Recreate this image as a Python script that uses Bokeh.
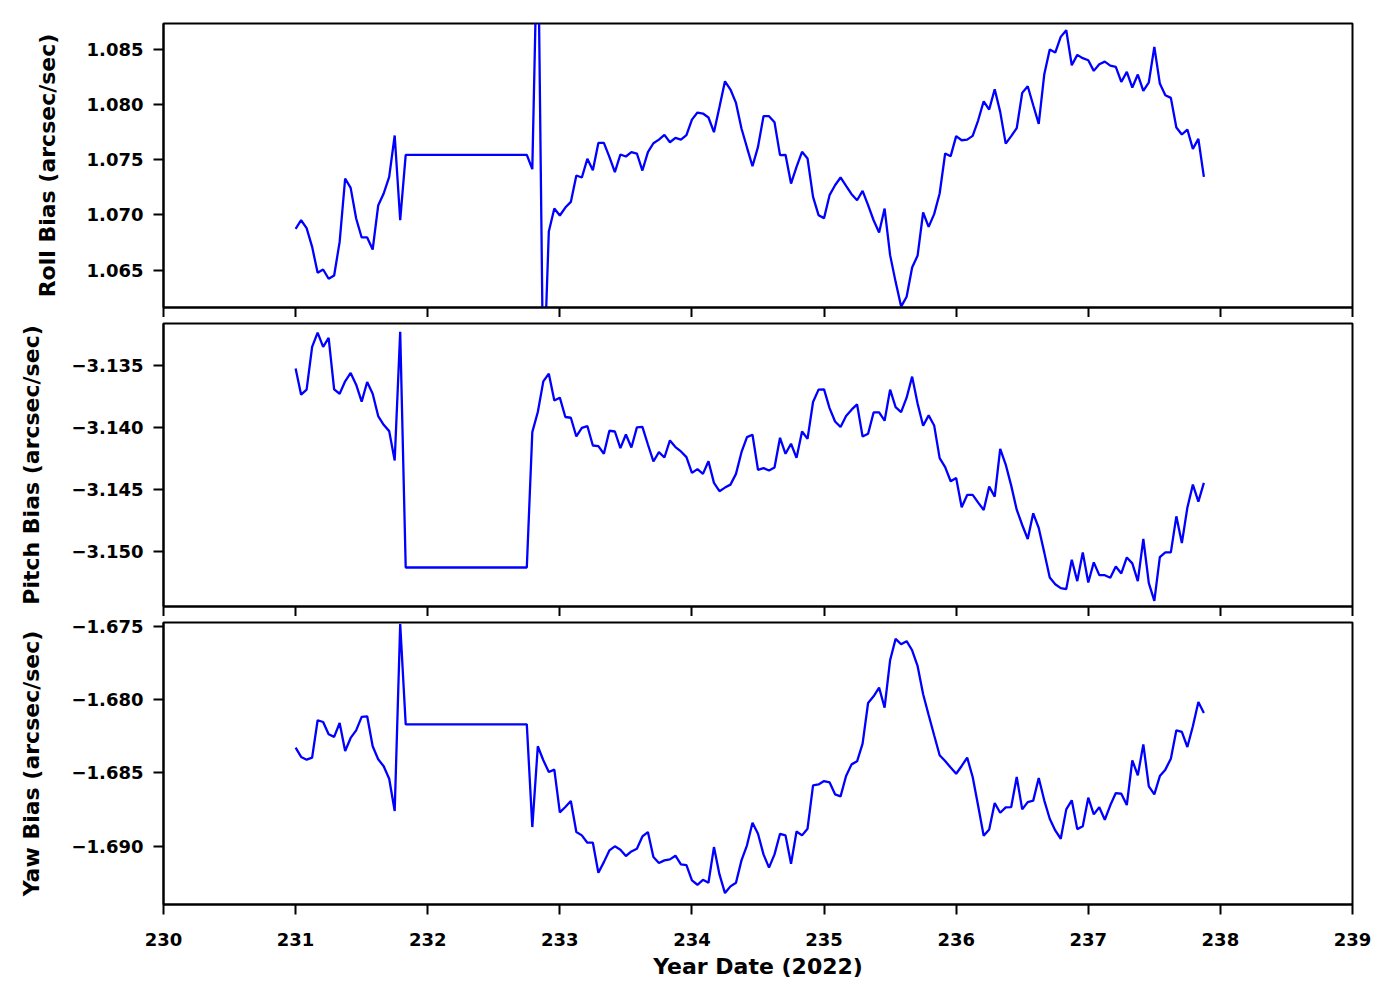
import numpy as np
from bokeh.plotting import figure
from bokeh.models import Range1d, FixedTicker, CustomJSTickFormatter
from bokeh.layouts import column
from bokeh.embed import file_html
from bokeh.resources import INLINE

# hourly samples (hours after day 231.0); data gap between hour 20 and hour 42
hours = list(range(0, 21)) + list(range(42, 166))

roll = [
    1.06874, 1.06952, 1.06880, 1.06711, 1.06476, 1.06506, 1.06422, 1.06452, 1.06756, 1.07330,
    1.07245, 1.06968, 1.06796, 1.06796, 1.06687, 1.07085, 1.07194, 1.07345, 1.07719, 1.06952,
    1.07544,
    1.07544, 1.07414, 1.0976, 1.0539, 1.06850, 1.07058, 1.06995, 1.07067,
    1.07118, 1.07357, 1.07339, 1.07508, 1.07405, 1.07652, 1.07652, 1.07526, 1.07387, 1.07547,
    1.07529, 1.07568, 1.07556, 1.07402, 1.07568, 1.07649, 1.07682, 1.07725, 1.07658, 1.07698,
    1.07682, 1.07722, 1.07863, 1.07927, 1.07918, 1.07882, 1.07749, 1.07978, 1.08210, 1.08135,
    1.08014, 1.07782, 1.07610, 1.07441, 1.07616, 1.07894, 1.07894, 1.07839, 1.07541, 1.07544,
    1.07284, 1.07435, 1.07571, 1.07511, 1.07164, 1.06998, 1.06971, 1.07179, 1.07269, 1.07339,
    1.07263, 1.07188, 1.07133, 1.07218, 1.07088, 1.06952, 1.06841, 1.07058, 1.06636, 1.06394,
    1.06170, 1.06259, 1.06524, 1.06633, 1.07022, 1.06892, 1.07007, 1.07194, 1.07556, 1.07532,
    1.07713, 1.07676, 1.07682, 1.07716, 1.07857, 1.08029, 1.07954, 1.08138, 1.07933, 1.07646,
    1.07713, 1.07785, 1.08105, 1.08165, 1.07993, 1.07824, 1.08271, 1.08497, 1.08470, 1.08612,
    1.08672, 1.08355, 1.08449, 1.08419, 1.08400, 1.08304, 1.08364, 1.08388, 1.08352, 1.08340,
    1.08204, 1.08295, 1.08153, 1.08271, 1.08123, 1.08201, 1.08521, 1.08189, 1.08084, 1.08060,
    1.07791, 1.07728, 1.07773, 1.07598, 1.07689, 1.07345,
]

pitch = [
    -3.13524, -3.13735, -3.13694, -3.13349, -3.13233, -3.13349, -3.13276, -3.13692, -3.13727, -3.13627,
    -3.13559, -3.13654, -3.13791, -3.13632, -3.13727, -3.13907, -3.13978, -3.14029, -3.14266, -3.13227,
    -3.15130,
    -3.15130, -3.14037, -3.13875, -3.13627, -3.13565, -3.13781, -3.13759, -3.13915,
    -3.13921, -3.14072, -3.14002, -3.13988, -3.14145, -3.14150, -3.14212, -3.14026, -3.14032, -3.14166,
    -3.14056, -3.14161, -3.13999, -3.13994, -3.14137, -3.14274, -3.14199, -3.14242, -3.14104, -3.14158,
    -3.14193, -3.14239, -3.14366, -3.14336, -3.14374, -3.14272, -3.14447, -3.14514, -3.14485, -3.14461,
    -3.14374, -3.14199, -3.14077, -3.14058, -3.14342, -3.14328, -3.14347, -3.14323, -3.14083, -3.14212,
    -3.14131, -3.14245, -3.14032, -3.14091, -3.13794, -3.13694, -3.13692, -3.13843, -3.13951, -3.13996,
    -3.13907, -3.13856, -3.13813, -3.14072, -3.14050, -3.13878, -3.13878, -3.13945, -3.13694, -3.13835,
    -3.13875, -3.13759, -3.13589, -3.13808, -3.13986, -3.13902, -3.13983, -3.14247, -3.14320, -3.14434,
    -3.14407, -3.14644, -3.14544, -3.14544, -3.14606, -3.14666, -3.14477, -3.14558, -3.14172, -3.14299,
    -3.14469, -3.14663, -3.14787, -3.14900, -3.14693, -3.14811, -3.15008, -3.15211, -3.15265, -3.15297,
    -3.15305, -3.15068, -3.15240, -3.15008, -3.15251, -3.15089, -3.15192, -3.15192, -3.15213, -3.15122,
    -3.15178, -3.15049, -3.15097, -3.15240, -3.14900, -3.15256, -3.15399, -3.15046, -3.15008, -3.15008,
    -3.14717, -3.14933, -3.14647, -3.14461, -3.14598, -3.14447,
]

yaw = [
    -1.68326, -1.68390, -1.68409, -1.68395, -1.68139, -1.68151, -1.68235, -1.68253, -1.68158, -1.68349,
    -1.68260, -1.68208, -1.68116, -1.68112, -1.68317, -1.68406, -1.68454, -1.68539, -1.68760, -1.67480,
    -1.68167,
    -1.68167, -1.68870, -1.68317, -1.68413, -1.68493, -1.68477, -1.68769, -1.68733,
    -1.68692, -1.68904, -1.68927, -1.68977, -1.68977, -1.69183, -1.69110, -1.69030, -1.69002, -1.69025,
    -1.69068, -1.69037, -1.69018, -1.68934, -1.68904, -1.69075, -1.69116, -1.69098, -1.69091, -1.69066,
    -1.69126, -1.69130, -1.69235, -1.69265, -1.69231, -1.69251, -1.69007, -1.69194, -1.69322, -1.69276,
    -1.69251, -1.69098, -1.68995, -1.68840, -1.68916, -1.69057, -1.69148, -1.69057, -1.68916, -1.68927,
    -1.69121, -1.68900, -1.68927, -1.68881, -1.68584, -1.68578, -1.68555, -1.68564, -1.68646, -1.68660,
    -1.68521, -1.68441, -1.68420, -1.68299, -1.68021, -1.67975, -1.67916, -1.68053, -1.67728, -1.67582,
    -1.67619, -1.67598, -1.67660, -1.67769, -1.67961, -1.68103, -1.68242, -1.68379, -1.68418, -1.68463,
    -1.68505, -1.68452, -1.68395, -1.68527, -1.68726, -1.68929, -1.68886, -1.68705, -1.68772, -1.68735,
    -1.68733, -1.68527, -1.68749, -1.68699, -1.68689, -1.68534, -1.68687, -1.68813, -1.68893, -1.68950,
    -1.68749, -1.68687, -1.68884, -1.68865, -1.68669, -1.68783, -1.68735, -1.68820, -1.68721, -1.68637,
    -1.68642, -1.68719, -1.68413, -1.68516, -1.68304, -1.68591, -1.68646, -1.68521, -1.68477, -1.68402,
    -1.68208, -1.68219, -1.68322, -1.68180, -1.68014, -1.68089,
]

x_ticks = [230, 231, 232, 233, 234, 235, 236, 237, 238, 239]
roll_ticks = [1.065, 1.070, 1.075, 1.080, 1.085]
pitch_ticks = [-3.150, -3.145, -3.140, -3.135]
yaw_ticks = [-1.690, -1.685, -1.680, -1.675]

roll_lim = (1.06162, 1.08733)
pitch_lim = (-3.15445, -3.13160)
yaw_lim = (-1.69400, -1.67470)

year_date = [231 + h / 24.0 for h in hours]

FONT = "DejaVu Sans"
TICK_FS = "18px"
LABEL_FS = "22px"
x_range = Range1d(230, 239)

fmt3 = CustomJSTickFormatter(code="return tick.toFixed(3).replace('-', '\u2212');")
fmt0 = CustomJSTickFormatter(code="return tick.toFixed(0);")


def make_panel(yvals, ylim, yticks, ylabel, frame_h, top_b, bottom_b, show_x):
    p = figure(frame_width=1189, frame_height=frame_h, x_range=x_range,
               y_range=Range1d(*ylim), output_backend="svg", toolbar_location=None,
               min_border_left=163, min_border_right=36,
               min_border_top=top_b, min_border_bottom=bottom_b)
    p.background_fill_color = "white"
    p.border_fill_color = "white"
    p.outline_line_color = "black"
    p.outline_line_width = 2
    p.grid.visible = False

    p.line(year_date, yvals, line_color="#0000ff", line_width=2.3)

    for ax in (p.xaxis[0], p.yaxis[0]):
        ax.axis_line_color = "black"
        ax.axis_line_width = 2
        ax.major_tick_line_color = "black"
        ax.major_tick_line_width = 2
        ax.major_tick_out = 10
        ax.major_tick_in = 0
        ax.minor_tick_line_color = None
        ax.major_label_text_font = FONT
        ax.major_label_text_font_style = "bold"
        ax.major_label_text_font_size = TICK_FS
        ax.major_label_text_color = "black"
        ax.major_label_standoff = 10
        ax.axis_label_text_font = FONT
        ax.axis_label_text_font_style = "bold"
        ax.axis_label_text_font_size = LABEL_FS
        ax.axis_label_text_color = "black"

    p.xaxis.ticker = FixedTicker(ticks=x_ticks)
    p.xaxis.formatter = fmt0
    p.yaxis.ticker = FixedTicker(ticks=yticks)
    p.yaxis.formatter = fmt3
    p.yaxis.axis_label = ylabel
    p.yaxis.axis_label_standoff = 24

    if show_x:
        p.xaxis.axis_label = "Year Date (2022)"
        p.xaxis.axis_label_standoff = 5
        p.xaxis.major_label_standoff = 18
    else:
        p.xaxis.major_label_text_font_size = "0px"
        p.xaxis.major_label_text_color = None
        p.xaxis.major_label_standoff = 0
    return p


p1 = make_panel(roll, roll_lim, roll_ticks, "Roll Bias (arcsec/sec)", 284, 23, 0, False)
p2 = make_panel(pitch, pitch_lim, pitch_ticks, "Pitch Bias (arcsec/sec)", 283, 6, 0, False)
p3 = make_panel(yaw, yaw_lim, yaw_ticks, "Yaw Bias (arcsec/sec)", 282, 6, 10, True)

layout = column(p1, p2, p3, spacing=0)

open("out.html", "w").write(file_html(layout, INLINE))
